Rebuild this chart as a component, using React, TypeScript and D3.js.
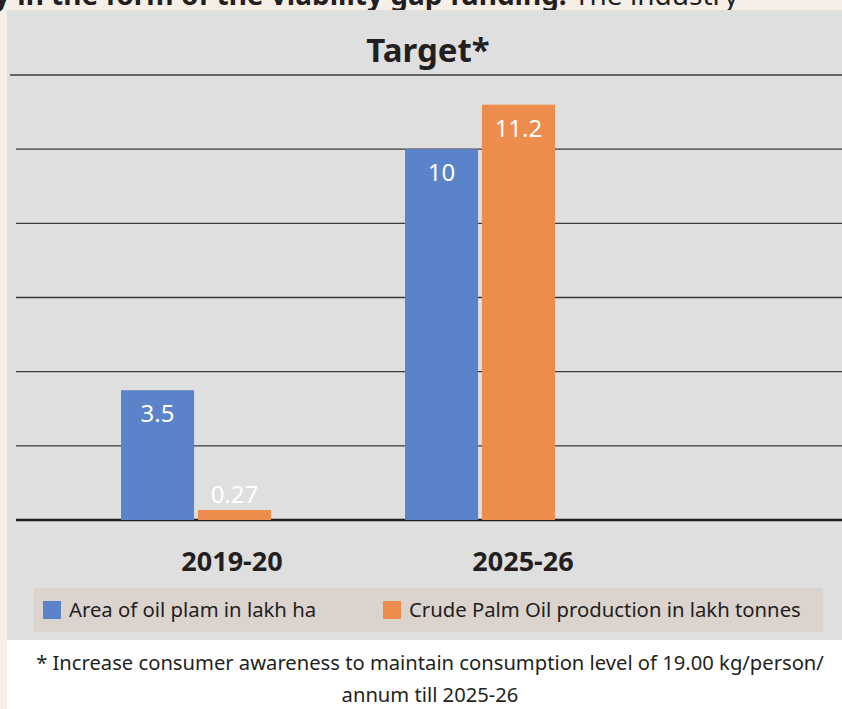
import React from "react";
import * as d3 from "d3";

const categories = ["2019-20", "2025-26"];
const seriesNames = ["Area of oil plam in lakh ha", "Crude Palm Oil production in lakh tonnes"];
const areaValues = [3.5, 10];
const productionValues = [0.27, 11.2];
const areaLabels = ["3.5", "10"];
const productionLabels = ["0.27", "11.2"];
const yTicks = [0, 2, 4, 6, 8, 10, 12];
const title = "Target*";
const footnoteLines = [
  "* Increase consumer awareness to maintain consumption level of 19.00 kg/person/",
  "annum till 2025-26",
];
const headBold = "y in the form of the viability gap funding.";
const headRegular = " The industry";

const W = 842;
const H = 709;
const FONT = "'Noto Sans', 'Open Sans', sans-serif";
const colors = ["#5b83c9", "#ee8c4e"];

export default function App() {
  const y = d3.scaleLinear().domain([0, 12]).range([520, 75]);
  const x0 = d3.scaleBand<string>().domain(categories).range([121, 121 + 568]).paddingInner(0).paddingOuter(0);
  const x1 = d3.scaleBand<string>().domain(seriesNames).range([0, 150]).paddingInner(0.05);
  const xLabel = d3.scalePoint<string>().domain(categories).range([232, 523]);
  const values = [areaValues, productionValues];
  const labels = [areaLabels, productionLabels];

  const bars: any[] = [];
  categories.forEach((c, ci) => {
    seriesNames.forEach((s, si) => {
      const v = values[si][ci];
      const bx = (x0(c) as number) + (x1(s) as number);
      const top = y(v);
      const h = y(0) - top;
      const inside = h > 40;
      bars.push(
        <g key={c + s}>
          <rect x={bx} y={top} width={x1.bandwidth()} height={h} fill={colors[si]} />
          <text
            x={bx + x1.bandwidth() / 2}
            y={inside ? top + 32 : top - 7}
            textAnchor="middle"
            fontSize={24}
            fill="#ffffff"
            fontFamily={FONT}
          >
            {labels[si][ci]}
          </text>
        </g>
      );
    });
  });

  return (
    <svg
      width={W}
      height={H}
      style={{ position: "absolute", left: 0, top: 0, display: "block" }}
      fontFamily={FONT}
    >
      <rect x={0} y={0} width={W} height={H} fill="#f6efe8" />
      <text x={-6} y={5} fontSize={28} fill="#231f20">
        <tspan fontWeight="bold">{headBold}</tspan>
        <tspan>{headRegular}</tspan>
      </text>
      <rect x={7} y={10} width={W - 7} height={630} fill="#dfdfdf" />
      <rect x={7} y={640} width={W - 7} height={H - 640} fill="#ffffff" />
      <text x={428} y={62} textAnchor="middle" fontSize={33} fontWeight="bold" fill="#231f20">
        {title}
      </text>
      {yTicks.map((t) => (
        <line
          key={t}
          x1={t === 12 ? 10 : 16}
          x2={W}
          y1={y(t)}
          y2={y(t)}
          stroke={t === 0 ? "#231f20" : "#3a3a3a"}
          strokeWidth={t === 0 ? 2.5 : 1.3}
        />
      ))}
      {bars}
      {categories.map((c) => (
        <text
          key={c}
          x={xLabel(c)}
          y={571}
          textAnchor="middle"
          fontSize={27}
          fontWeight="bold"
          fill="#231f20"
        >
          {c}
        </text>
      ))}
      <rect x={34} y={588} width={789} height={44} fill="#dbd3ce" />
      {seriesNames.map((s, i) => {
        const lx = i === 0 ? 43 : 383;
        return (
          <g key={s}>
            <rect x={lx} y={601} width={18} height={18} fill={colors[i]} />
            <text x={lx + 26} y={617} fontSize={20.3} fill="#231f20">
              {s}
            </text>
          </g>
        );
      })}
      {footnoteLines.map((l, i) => (
        <text key={i} x={430} y={670 + i * 32} textAnchor="middle" fontSize={20.2} fill="#231f20">
          {l}
        </text>
      ))}
    </svg>
  );
}
